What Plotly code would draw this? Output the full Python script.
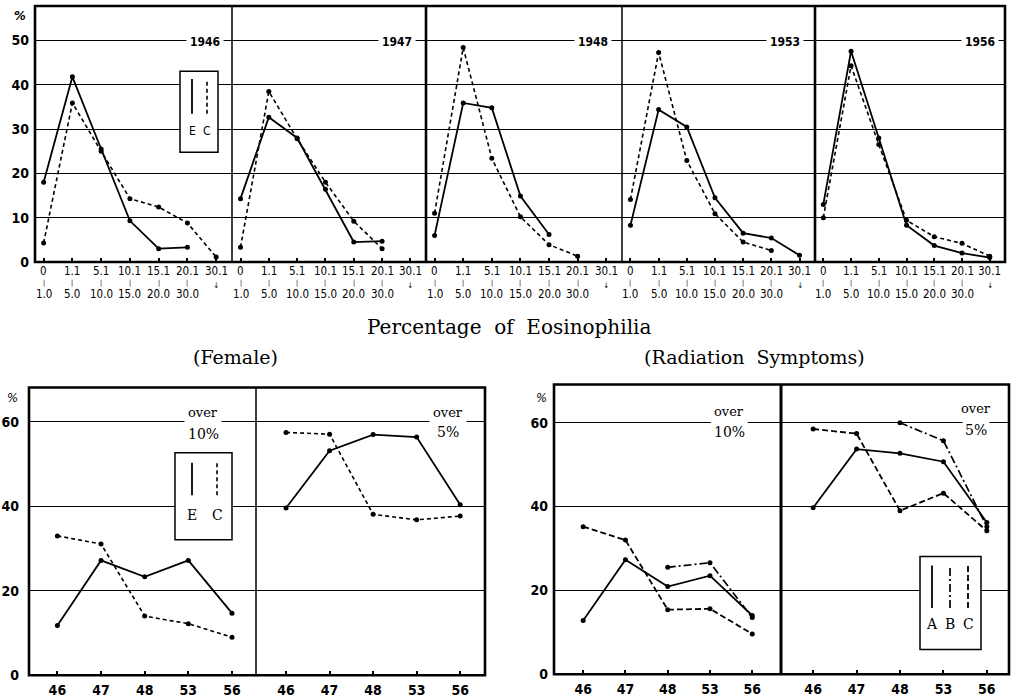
import plotly.graph_objects as go

W, H = 1011, 700

# ---------------- data ----------------
eos_lo = ["0", "1.1", "5.1", "10.1", "15.1", "20.1", "30.1"]
eos_hi = ["1.0", "5.0", "10.0", "15.0", "20.0", "30.0", ""]
survey_years = ["1946", "1947", "1948", "1953", "1956"]

E_1946 = [18.0, 41.8, 25.5, 9.3, 3.0, 3.3, None]
C_1946 = [4.3, 35.9, 25.0, 14.3, 12.4, 8.8, 1.1]
E_1947 = [14.3, 32.7, 28.0, 16.4, 4.5, 4.7, None]
C_1947 = [3.3, 38.5, 27.8, 18.0, 9.2, 3.0, None]
E_1948 = [6.0, 35.9, 34.8, 14.9, 6.2, None, None]
C_1948 = [11.0, 48.4, 23.4, 10.2, 3.9, 1.3, None]
E_1953 = [8.3, 34.4, 30.5, 14.5, 6.5, 5.4, 1.5]
C_1953 = [14.1, 47.3, 22.9, 10.9, 4.5, 2.6, None]
E_1956 = [13.0, 47.6, 28.0, 8.3, 3.7, 2.0, 1.0]
C_1956 = [10.0, 44.3, 26.5, 9.4, 5.7, 4.2, 1.3]

years_short = ["46", "47", "48", "53", "56"]
fem_over10_E = [11.8, 27.2, 23.3, 27.2, 14.7]
fem_over10_C = [33.0, 31.1, 14.0, 12.2, 9.0]
fem_over5_E = [39.6, 53.2, 57.0, 56.4, 40.4]
fem_over5_C = [57.5, 57.1, 38.1, 36.8, 37.7]

rad_over10_A = [12.8, 27.3, 20.9, 23.5, 14.0]
rad_over10_B = [None, None, 25.5, 26.6, 13.5]
rad_over10_C = [35.2, 32.0, 15.4, 15.6, 9.6]
rad_over5_A = [39.7, 53.7, 52.7, 50.7, 36.2]
rad_over5_B = [None, None, 60.0, 55.7, 35.2]
rad_over5_C = [58.5, 57.4, 39.0, 43.2, 34.2]

top_yticks = [0, 10, 20, 30, 40, 50]
bottom_yticks = [0, 20, 40, 60]

# ---------------- helpers ----------------
NUM = "Liberation Sans Narrow, DejaVu Sans Condensed, Arial Narrow, sans-serif"
SERIF = "DejaVu Serif, Liberation Serif, serif"
BLK = "black"


def px(x):
    return x / W


def py(y):
    return 1 - y / H


eos_cats = [f"{lo}-{hi}" for lo, hi in zip(eos_lo, eos_hi)]
E_top = [E_1946, E_1947, E_1948, E_1953, E_1956]
C_top = [C_1946, C_1947, C_1948, C_1953, C_1956]

fig = go.Figure()
layout_axes = {}
annotations = []
shapes = []

SOLID = dict(color=BLK, width=1.8)
DASH = dict(color=BLK, width=1.6, dash="4px,3px")
DASH2 = dict(color=BLK, width=1.8, dash="6px,3px")
DASHDOT = dict(color=BLK, width=1.7, dash="8px,3px,2px,3px")
MARK = dict(size=5, color=BLK)


def ann(x, y, text, font, xref="paper", yref="paper", **kw):
    d = dict(x=x, y=y, xref=xref, yref=yref, text=text, showarrow=False,
             xanchor="center", yanchor="middle", font=font)
    d.update(kw)
    annotations.append(d)


def axis_names(i):
    return ("xaxis" if i == 1 else f"xaxis{i}", "yaxis" if i == 1 else f"yaxis{i}",
            "x" if i == 1 else f"x{i}", "y" if i == 1 else f"y{i}")


def add_axes(i, xpx, ypx, xrange, yrange, cats, yticks, show_y, show_x, ystand):
    xn, yn, xr, yr = axis_names(i)
    layout_axes[xn] = dict(
        domain=[px(xpx[0]), px(xpx[1])], anchor=yr, type="category",
        categoryorder="array", categoryarray=cats, range=xrange,
        showgrid=False, zeroline=False, showline=False,
        ticks="inside", ticklen=4, tickwidth=1.5, tickcolor=BLK,
        showticklabels=show_x,
        tickfont=dict(family=NUM, size=14, color=BLK, weight="bold"),
        ticklabelstandoff=5,
    )
    layout_axes[yn] = dict(
        domain=[py(ypx[0]), py(ypx[1])], anchor=xr, range=yrange,
        tickmode="array", tickvals=yticks, showgrid=True, gridcolor=BLK,
        gridwidth=1.3, zeroline=False, showline=False, ticks="",
        showticklabels=show_y, ticklabelstandoff=ystand,
        tickfont=dict(family=NUM, size=14, color=BLK, weight="bold"),
    )
    return xr, yr


# ---------------- top panels ----------------
top_x = [(35, 232), (232, 426), (426, 622), (622, 815), (815, 1005)]
top_y = (265, 6)
top_range = [0, (265 - 6) / 4.48]
year_label_x = [205, 397, 593, 785, 980]
TICKF = dict(family=NUM, size=11.5, color=BLK)

for k in range(5):
    i = k + 1
    xr, yr = add_axes(i, top_x[k], top_y, [-0.3, 6.55], top_range, eos_cats,
                      top_yticks, k == 0, False, 5)
    fig.add_trace(go.Scatter(x=eos_cats, y=C_top[k], xaxis=xr, yaxis=yr,
                             mode="lines+markers", line=DASH, marker=MARK))
    fig.add_trace(go.Scatter(x=eos_cats, y=E_top[k], xaxis=xr, yaxis=yr,
                             mode="lines+markers", line=SOLID, marker=MARK))
    # category labels (two-line ranges)
    for c, lo, hi in zip(eos_cats, eos_lo, eos_hi):
        ann(c, py(274), lo, TICKF, xref=xr, borderpad=0)
        if hi:
            ann(c, py(286), "|", dict(family=NUM, size=7, color=BLK), xref=xr, borderpad=0)
            ann(c, py(297), hi, TICKF, xref=xr, borderpad=0)
        else:
            ann(c, py(289), "↓", dict(family=NUM, size=8, color=BLK), xref=xr, borderpad=0)
    ann(px(year_label_x[k]), py(42), survey_years[k],
        dict(family=NUM, size=12, color=BLK, weight="bold"), bgcolor="white", borderpad=3)

ann(px(20), py(16), "<i>%</i>", dict(family=NUM, size=13, color=BLK, weight="bold"))

# frame & dividers (top)
shapes.append(dict(type="rect", xref="paper", yref="paper", x0=px(35), x1=px(1005),
                   y0=py(265), y1=py(6), line=dict(color=BLK, width=2.6)))
for xd, wd in [(232, 1.5), (426, 2.6), (622, 1.5), (815, 2.6)]:
    shapes.append(dict(type="line", xref="paper", yref="paper", x0=px(xd), x1=px(xd),
                       y0=py(265), y1=py(6), line=dict(color=BLK, width=wd)))

# legend E / C (top)
shapes.append(dict(type="rect", xref="paper", yref="paper", x0=px(180), x1=px(218),
                   y0=py(154), y1=py(72), line=dict(color=BLK, width=1.5), fillcolor="white"))
shapes.append(dict(type="line", xref="paper", yref="paper", x0=px(192), x1=px(192),
                   y0=py(115), y1=py(80), line=SOLID))
shapes.append(dict(type="line", xref="paper", yref="paper", x0=px(207), x1=px(207),
                   y0=py(115), y1=py(80), line=DASH))
for t, xx in [("E", 192), ("C", 207)]:
    ann(px(xx), py(133), t, dict(family=NUM, size=12, color=BLK))

ann(px(509), py(331), "Percentage&nbsp; of&nbsp; Eosinophilia",
    dict(family=SERIF, size=20, color=BLK))
ann(px(235), py(361), "(Female)", dict(family=SERIF, size=19, color=BLK))
ann(px(754), py(361), "(Radiation&nbsp; Symptoms)", dict(family=SERIF, size=19, color=BLK))

# ---------------- bottom: Female ----------------
fem_y = (683, 392)
fem_range = [0, (683 - 392) / 4.27]
xr, yr = add_axes(6, (29, 256), fem_y, [-0.65, 4.55], fem_range, years_short,
                  bottom_yticks, True, True, 9)
fig.add_trace(go.Scatter(x=years_short, y=fem_over10_C, xaxis=xr, yaxis=yr,
                         mode="lines+markers", line=DASH, marker=MARK))
fig.add_trace(go.Scatter(x=years_short, y=fem_over10_E, xaxis=xr, yaxis=yr,
                         mode="lines+markers", line=SOLID, marker=MARK))
xr, yr = add_axes(7, (256, 485), fem_y, [-0.69, 4.57], fem_range, years_short,
                  bottom_yticks, False, True, 9)
fig.add_trace(go.Scatter(x=years_short, y=fem_over5_C, xaxis=xr, yaxis=yr,
                         mode="lines+markers", line=DASH, marker=MARK))
fig.add_trace(go.Scatter(x=years_short, y=fem_over5_E, xaxis=xr, yaxis=yr,
                         mode="lines+markers", line=SOLID, marker=MARK))

shapes.append(dict(type="rect", xref="paper", yref="paper", x0=px(29), x1=px(485),
                   y0=py(683), y1=py(392), line=dict(color=BLK, width=2.6)))
shapes.append(dict(type="line", xref="paper", yref="paper", x0=px(256), x1=px(256),
                   y0=py(683), y1=py(392), line=dict(color=BLK, width=1.5)))
ann(px(12), py(402), "<i>%</i>", dict(family=NUM, size=13, color=BLK))

# legend female
shapes.append(dict(type="rect", xref="paper", yref="paper", x0=px(175), x1=px(232),
                   y0=py(546), y1=py(458), line=dict(color=BLK, width=1.5), fillcolor="white"))
shapes.append(dict(type="line", xref="paper", yref="paper", x0=px(192), x1=px(192),
                   y0=py(501), y1=py(468), line=SOLID))
shapes.append(dict(type="line", xref="paper", yref="paper", x0=px(217), x1=px(217),
                   y0=py(501), y1=py(468), line=DASH))
for t, xx in [("E", 192), ("C", 217)]:
    ann(px(xx), py(521), t, dict(family=SERIF, size=14, color=BLK))

# ---------------- bottom: Radiation ----------------
rad_y = (682, 389)
rad_range = [0, (682 - 389) / 4.24]
xr, yr = add_axes(8, (554, 781), rad_y, [-0.69, 4.68], rad_range, years_short,
                  bottom_yticks, True, True, 5)
fig.add_trace(go.Scatter(x=years_short, y=rad_over10_C, xaxis=xr, yaxis=yr,
                         mode="lines+markers", line=DASH2, marker=MARK))
fig.add_trace(go.Scatter(x=years_short, y=rad_over10_B, xaxis=xr, yaxis=yr,
                         mode="lines+markers", line=DASHDOT, marker=MARK))
fig.add_trace(go.Scatter(x=years_short, y=rad_over10_A, xaxis=xr, yaxis=yr,
                         mode="lines+markers", line=SOLID, marker=MARK))
xr, yr = add_axes(9, (781, 1009), rad_y, [-0.74, 4.51], rad_range, years_short,
                  bottom_yticks, False, True, 5)
fig.add_trace(go.Scatter(x=years_short, y=rad_over5_C, xaxis=xr, yaxis=yr,
                         mode="lines+markers", line=DASH2, marker=MARK))
fig.add_trace(go.Scatter(x=years_short, y=rad_over5_B, xaxis=xr, yaxis=yr,
                         mode="lines+markers", line=DASHDOT, marker=MARK))
fig.add_trace(go.Scatter(x=years_short, y=rad_over5_A, xaxis=xr, yaxis=yr,
                         mode="lines+markers", line=SOLID, marker=MARK))

shapes.append(dict(type="rect", xref="paper", yref="paper", x0=px(554), x1=px(1009),
                   y0=py(682), y1=py(389), line=dict(color=BLK, width=2.6)))
shapes.append(dict(type="line", xref="paper", yref="paper", x0=px(781), x1=px(781),
                   y0=py(682), y1=py(389), line=dict(color=BLK, width=3)))
ann(px(541), py(402), "<i>%</i>", dict(family=NUM, size=13, color=BLK))

# legend radiation
shapes.append(dict(type="rect", xref="paper", yref="paper", x0=px(920), x1=px(981),
                   y0=py(657), y1=py(563), line=dict(color=BLK, width=1.5), fillcolor="white"))
for xx, ln in [(932, SOLID), (950, DASHDOT), (968, DASH2)]:
    shapes.append(dict(type="line", xref="paper", yref="paper", x0=px(xx), x1=px(xx),
                       y0=py(615), y1=py(572), line=ln))
for t, xx in [("A", 932), ("B", 950), ("C", 968)]:
    ann(px(xx), py(631), t, dict(family=SERIF, size=14, color=BLK))

# "over 10%" / "over 5%" labels
for xx, yo, yp, pct in [(203, 417, 439, "10%"), (448, 417, 437, "5%"),
                        (729, 416, 437, "10%"), (976, 413, 435, "5%")]:
    ann(px(xx), py(yo), "over", dict(family=SERIF, size=13, color=BLK),
        bgcolor="white", borderpad=3)
    ann(px(xx), py(yp), pct, dict(family=SERIF, size=14, color=BLK),
        bgcolor="white", borderpad=2)

fig.update_layout(
    width=W, height=H, margin=dict(l=0, r=0, t=0, b=0),
    paper_bgcolor="white", plot_bgcolor="white", showlegend=False,
    annotations=annotations, shapes=shapes, **layout_axes,
)

fig.write_html("out.html")
